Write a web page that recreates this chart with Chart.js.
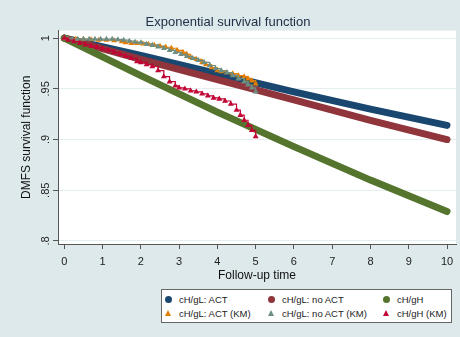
<!DOCTYPE html>
<html>
<head>
<meta charset="utf-8">
<script src="https://cdn.jsdelivr.net/npm/chart.js@4.4.1/dist/chart.umd.min.js"></script>
<style>
  html, body { margin: 0; padding: 0; }
  body { width: 460px; height: 337px; background: #dde9ea; position: relative; overflow: hidden;
         font-family: "Liberation Sans", Arial, sans-serif; }
  #wrap { position: absolute; left: 0; top: 0; width: 460px; height: 337px; }
  #legend { position: absolute; left: 161px; top: 289px; width: 291px; height: 34px; box-sizing: border-box;
            background: #fff; border: 1px solid #666; font-size: 9.5px; color: #222; }
  .item { position: absolute; white-space: nowrap; line-height: 12px; }
  .mk { position: absolute; }
  .dot { width: 7px; height: 7px; border-radius: 50%; }
  .tri { width: 0; height: 0; border-left: 3.5px solid transparent; border-right: 3.5px solid transparent; border-bottom-width: 6px; border-bottom-style: solid; }
</style>
</head>
<body>
<div id="wrap"><canvas id="survChart" width="460" height="337"></canvas></div>
<div id="legend"></div>
<script>
// axis ticks
const xTicks = [0, 1, 2, 3, 4, 5, 6, 7, 8, 9, 10];
const yTicks = [0.8, 0.85, 0.9, 0.95, 1];
const yTickLabels = [".8", ".85", ".9", ".95", "1"];

// fitted exponential survival
const expTime = [0, 2, 4, 6, 8, 10];
const actExp = [1, 0.983, 0.965, 0.947, 0.930, 0.914];
const noActExp = [1, 0.979, 0.959, 0.939, 0.919, 0.900];
const gHExp = [1, 0.963, 0.927, 0.893, 0.860, 0.829];

// Kaplan-Meier estimates
const actKmTime = [0, 0.1, 0.3, 0.5, 0.7, 0.9, 1.1, 1.3, 1.5, 1.6, 1.75, 1.9, 2.05, 2.2, 2.35, 2.5, 2.65, 2.8, 2.95,
  3.1, 3.2, 3.3, 3.45, 3.6, 3.7, 3.85, 4.0, 4.1, 4.25, 4.4, 4.55, 4.7, 4.8, 4.9, 5.0];
const actKm = [1, 0.9995, 0.999, 0.999, 0.9985, 0.998, 0.998, 0.9975, 0.9965, 0.9955, 0.995, 0.995, 0.9945, 0.994,
  0.993, 0.992, 0.991, 0.990, 0.988, 0.986, 0.984, 0.981, 0.979, 0.976, 0.974, 0.971, 0.968, 0.967, 0.966, 0.965,
  0.963, 0.962, 0.960, 0.958, 0.955];

const noActKmTime = [0, 0.1, 0.2, 0.35, 0.5, 0.65, 0.8, 0.95, 1.1, 1.25, 1.4, 1.55, 1.7, 1.85, 2.0, 2.15, 2.3, 2.45,
  2.6, 2.75, 2.9, 3.05, 3.2, 3.35, 3.5, 3.65, 3.8, 3.95, 4.1, 4.25, 4.4, 4.55, 4.7, 4.8, 4.9, 5.0];
const noActKm = [1, 0.9995, 0.999, 0.999, 0.999, 0.999, 0.999, 0.999, 0.999, 0.999, 0.9985, 0.998, 0.997, 0.996,
  0.9955, 0.994, 0.993, 0.9915, 0.990, 0.988, 0.986, 0.984, 0.982, 0.980, 0.978, 0.976, 0.973, 0.970, 0.968, 0.966,
  0.963, 0.960, 0.957, 0.954, 0.951, 0.947];

const gHKmTime = [0, 0.1, 0.25, 0.4, 0.55, 0.7, 0.85, 1.0, 1.15, 1.3, 1.45, 1.6, 1.75, 1.9, 2.0, 2.15, 2.3, 2.45, 2.6,
  2.75, 2.9, 3.0, 3.15, 3.3, 3.45, 3.6, 3.75, 3.9, 4.05, 4.2, 4.35, 4.5, 4.6, 4.7, 4.8, 4.9, 5.0];
const gHKm = [1, 0.998, 0.9965, 0.995, 0.9935, 0.992, 0.991, 0.9895, 0.988, 0.986, 0.984, 0.982, 0.980, 0.977, 0.976,
  0.974, 0.972, 0.968, 0.962, 0.957, 0.953, 0.951, 0.950, 0.948, 0.947, 0.945, 0.943, 0.941, 0.940, 0.938, 0.935,
  0.929, 0.924, 0.919, 0.914, 0.909, 0.903];

const seriesNames = ["cH/gL: ACT", "cH/gL: no ACT", "cH/gH", "cH/gL: ACT (KM)", "cH/gL: no ACT (KM)", "cH/gH (KM)"];
const seriesColors = ["#1a476f", "#90353b", "#55752f", "#e37e00", "#6e8e84", "#c10534"];

function pts(xs, ys) {
  return xs.map((x, i) => ({ x: x, y: ys[i] }));
}

function expSet(i, xs, ys) {
  return {
    label: seriesNames[i],
    data: pts(xs, ys),
    borderColor: seriesColors[i],
    borderWidth: 7,
    borderCapStyle: "round",
    pointRadius: 0,
    tension: 0,
    order: 5 - i
  };
}

function kmSet(i, xs, ys) {
  return {
    label: seriesNames[i],
    data: pts(xs, ys),
    borderColor: seriesColors[i],
    backgroundColor: seriesColors[i],
    borderWidth: 1.2,
    stepped: true,
    pointStyle: "triangle",
    pointRadius: 3.4,
    pointBorderWidth: 0,
    order: 5 - i
  };
}

// white plot region
const plotBg = {
  id: "plotBg",
  beforeDraw(chart) {
    const a = chart.chartArea;
    const c = chart.ctx;
    c.save();
    c.fillStyle = "#ffffff";
    c.fillRect(a.left, a.top, a.right - a.left, a.bottom - a.top);
    c.restore();
  }
};

const font = "'Liberation Sans', Arial, sans-serif";

new Chart(document.getElementById("survChart"), {
  type: "line",
  data: {
    datasets: [
      expSet(0, expTime, actExp),
      expSet(1, expTime, noActExp),
      expSet(2, expTime, gHExp),
      kmSet(3, actKmTime, actKm),
      kmSet(4, noActKmTime, noActKm),
      kmSet(5, gHKmTime, gHKm)
    ]
  },
  options: {
    responsive: false,
    animation: false,
    layout: { padding: { left: 0, right: 4, top: 0, bottom: 52 } },
    plugins: {
      legend: { display: false },
      tooltip: { enabled: false },
      title: {
        display: true,
        text: "Exponential survival function",
        color: "#22304a",
        font: { family: font, size: 13, weight: "normal" },
        padding: { top: 15, bottom: 0 }
      }
    },
    scales: {
      x: {
        type: "linear",
        min: -0.165,
        max: 10.235,
        afterBuildTicks(scale) { scale.ticks = xTicks.map(v => ({ value: v })); },
        afterFit(scale) { scale.height = 41; },
        grid: { drawOnChartArea: false, tickLength: 5, color: "#555" },
        border: { color: "#555" },
        ticks: { color: "#222", padding: 6, maxRotation: 0, font: { family: font, size: 11 } },
        title: {
          display: true,
          text: "Follow-up time",
          color: "#111",
          font: { family: font, size: 12 },
          padding: { top: 0, bottom: 2 }
        }
      },
      y: {
        type: "linear",
        min: 0.797,
        max: 1.0074,
        afterBuildTicks(scale) { scale.ticks = yTicks.map(v => ({ value: v })); },
        afterFit(scale) { scale.width = 58; },
        grid: { color: "#e4eeef", tickColor: "#555", tickLength: 5 },
        border: { color: "#555" },
        ticks: {
          color: "#222",
          padding: -1,
          minRotation: 90,
          maxRotation: 90,
          crossAlign: "center",
          font: { family: font, size: 11 },
          callback: (v) => yTickLabels[yTicks.indexOf(v)]
        },
        title: {
          display: true,
          text: "DMFS survival function",
          color: "#111",
          font: { family: font, size: 12 },
          padding: { top: 19, bottom: 0 }
        }
      }
    }
  },
  plugins: [plotBg]
});

// legend box, three columns by two rows
const legend = document.getElementById("legend");
const colX = [7, 110, 225];
const rowY = [10, 24];
seriesNames.forEach((name, i) => {
  const col = i % 3;
  const row = Math.floor(i / 3);
  const mk = document.createElement("div");
  if (row === 0) {
    mk.className = "mk dot";
    mk.style.background = seriesColors[i];
    mk.style.left = (colX[col] - 4) + "px";
    mk.style.top = (rowY[row] - 4.5) + "px";
  } else {
    mk.className = "mk tri";
    mk.style.borderBottomColor = seriesColors[i];
    mk.style.left = (colX[col] - 4) + "px";
    mk.style.top = (rowY[row] - 4) + "px";
  }
  legend.appendChild(mk);
  const t = document.createElement("div");
  t.className = "item";
  t.textContent = name;
  t.style.left = (colX[col] + 10) + "px";
  t.style.top = (rowY[row] - 6.5) + "px";
  legend.appendChild(t);
});
</script>
</body>
</html>
